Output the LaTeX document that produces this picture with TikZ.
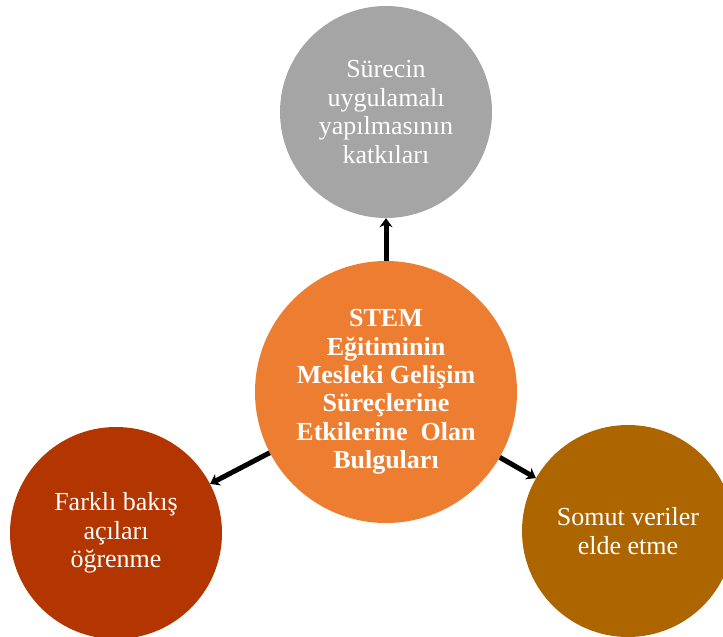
\documentclass[tikz,border=0pt]{standalone}
\usepackage{fontspec}
\setmainfont{Liberation Serif}
\usetikzlibrary{arrows.meta}
\definecolor{cgray}{HTML}{A5A5A5}
\definecolor{corange}{HTML}{ED7D31}
\definecolor{cred}{HTML}{B33600}
\definecolor{cbrown}{HTML}{AD6500}
\tikzset{
  bubble/.style={circle, inner sep=0pt, minimum size=212pt, text=white, align=center,
    font=\fontsize{26}{28.5}\selectfont},
  hub/.style={circle, inner sep=0pt, minimum size=262pt, text=white, align=center, fill=corange,
    font=\fontsize{26}{28.3}\selectfont\bfseries},
  link/.style={line width=5pt, -{Stealth[length=9pt,width=13pt]}, black}
}
\begin{document}
\begin{tikzpicture}[x=1pt, y=-1pt]
\useasboundingbox (0,0) rectangle (723,637);
\node[bubble, fill=cgray] (t) at (386,112) {Sürecin\\uygulamalı\\yapılmasının\\katkıları};
\node[hub] (c) at (386,392) {STEM\\Eğitiminin\\Mesleki Gelişim\\Süreçlerine\\Etkilerine~ Olan\\Bulguları};
\node[bubble, fill=cred] (l) at (116,533) {Farklı bakış\\açıları\\öğrenme};
\node[bubble, fill=cbrown] (r) at (628,531) {Somut veriler\\elde etme};
\draw[link] (c) -- (t);
\draw[link] (c) -- (l);
\draw[link] (c) -- (r);
\end{tikzpicture}
\end{document}
